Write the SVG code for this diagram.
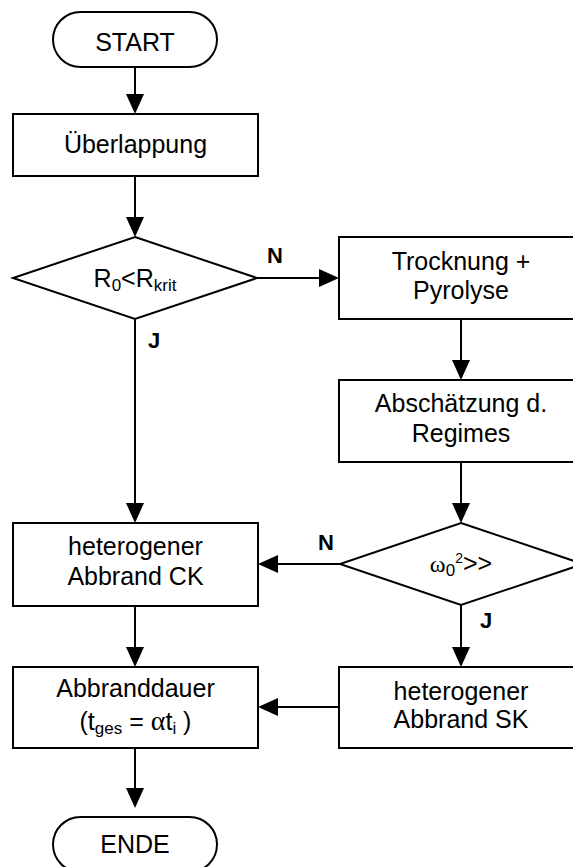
<svg xmlns="http://www.w3.org/2000/svg" width="573" height="867" viewBox="0 0 573 867">
<style>
.s{fill:#fff;stroke:#000;stroke-width:2}
.t{font-family:"Liberation Sans",Arial,sans-serif;font-size:25px;fill:#000;text-anchor:middle}
.l{font-family:"Liberation Sans",Arial,sans-serif;font-size:22px;font-weight:bold;fill:#000}
.c{fill:none;stroke:#000;stroke-width:2}
.sub{font-size:17px}
</style>
<defs>
<marker id="ah" markerWidth="20" markerHeight="18" refX="17" refY="9" orient="auto" markerUnits="userSpaceOnUse">
<path d="M0,0 L20,9 L0,18 Z" fill="#000"/>
</marker>
</defs>
<rect width="573" height="867" fill="#fff"/>
<g id="connectors">
<line class="c" x1="135" y1="67" x2="135" y2="111" marker-end="url(#ah)"/>
<line class="c" x1="135" y1="176" x2="135" y2="234" marker-end="url(#ah)"/>
<line class="c" x1="257" y1="278" x2="336" y2="278" marker-end="url(#ah)"/>
<line class="c" x1="135" y1="319" x2="135" y2="520" marker-end="url(#ah)"/>
<line class="c" x1="461" y1="319" x2="461" y2="377" marker-end="url(#ah)"/>
<line class="c" x1="461" y1="462" x2="461" y2="520" marker-end="url(#ah)"/>
<line class="c" x1="340" y1="564" x2="261" y2="564" marker-end="url(#ah)"/>
<line class="c" x1="461" y1="605" x2="461" y2="664" marker-end="url(#ah)"/>
<line class="c" x1="135" y1="606" x2="135" y2="664" marker-end="url(#ah)"/>
<line class="c" x1="339" y1="707" x2="261" y2="707" marker-end="url(#ah)"/>
<line class="c" x1="135" y1="748" x2="135" y2="805" marker-end="url(#ah)"/>
<text class="l" x="267" y="263">N</text>
<text class="l" x="148" y="348">J</text>
<text class="l" x="318" y="550">N</text>
<text class="l" x="480" y="628">J</text>
</g>
<g id="start">
<rect class="s" x="53" y="12" width="164" height="55" rx="27.5" ry="27.5"/>
<text class="t" x="135" y="51">START</text>
</g>
<g id="ueberlappung">
<rect class="s" x="13" y="114" width="245" height="62"/>
<text class="t" x="135.5" y="153">Überlappung</text>
</g>
<g id="decision1">
<polygon class="s" points="135,237 257,278 135,319 13,278"/>
<text class="t" x="135" y="287">R<tspan class="sub" dy="4">0</tspan><tspan dy="-4">&lt;R</tspan><tspan class="sub" dy="4">krit</tspan></text>
</g>
<g id="trocknung">
<rect class="s" x="339" y="237" width="244" height="82"/>
<text class="t" x="461" y="270">Trocknung +</text>
<text class="t" x="461" y="299">Pyrolyse</text>
</g>
<g id="abschaetzung">
<rect class="s" x="339" y="380" width="244" height="82"/>
<text class="t" x="461" y="412">Abschätzung d.</text>
<text class="t" x="461" y="442">Regimes</text>
</g>
<g id="decision2">
<polygon class="s" points="461,523 583,564 461,605 340,564"/>
<text class="t" x="461" y="572"><tspan style="font-family:'Liberation Serif',serif;font-size:24px">ω</tspan><tspan class="sub" dy="4">0</tspan><tspan style="font-size:14px" dy="-13">2</tspan><tspan dy="9">&gt;&gt;</tspan></text>
</g>
<g id="abbrand_ck">
<rect class="s" x="13" y="523" width="245" height="83"/>
<text class="t" x="135.5" y="555">heterogener</text>
<text class="t" x="135.5" y="585">Abbrand CK</text>
</g>
<g id="abbrand_sk">
<rect class="s" x="339" y="667" width="244" height="81"/>
<text class="t" x="461" y="700">heterogener</text>
<text class="t" x="461" y="728">Abbrand SK</text>
</g>
<g id="abbranddauer">
<rect class="s" x="13" y="667" width="245" height="81"/>
<text class="t" x="135.5" y="697">Abbranddauer</text>
<text class="t" x="135.5" y="730">(t<tspan class="sub" dy="4">ges</tspan><tspan dy="-4"> = </tspan><tspan style="font-family:'Liberation Serif',serif;font-size:28px">α</tspan>t<tspan class="sub" dy="4">i</tspan><tspan dy="-4"> )</tspan></text>
</g>
<g id="ende">
<rect class="s" x="53" y="817" width="164" height="55" rx="27.5" ry="27.5"/>
<text class="t" x="135" y="853">ENDE</text>
</g>
</svg>
